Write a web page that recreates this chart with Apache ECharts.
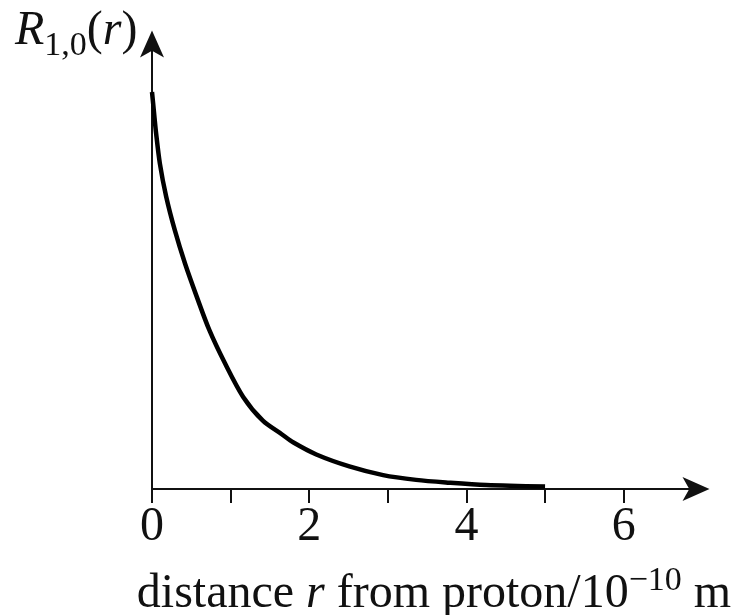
<!DOCTYPE html>
<html>
<head>
<meta charset="utf-8">
<script src="https://cdn.jsdelivr.net/npm/echarts@6/dist/echarts.min.js"></script>
<style>
  html, body { margin: 0; padding: 0; background: #fff; }
  #chart { width: 740px; height: 615px; }
</style>
</head>
<body>
<div id="chart"></div>
<script>
// Radial wavefunction R(1,0) of hydrogen (arbitrary units) against r / 1e-10 m
const rValues = [0, 0.025, 0.05, 0.1, 0.18, 0.29, 0.42, 0.57, 0.73, 0.93, 1.16, 1.41, 1.65, 1.8, 2.09, 2.51, 2.94, 3.36, 3.78, 4.25, 5.0];
const rWave   = [1.0, 0.95, 0.90, 0.82, 0.737, 0.652, 0.568, 0.484, 0.40, 0.316, 0.232, 0.172, 0.138, 0.117, 0.087, 0.057, 0.035, 0.023, 0.016, 0.010, 0.006];
const tickValues  = [0, 1, 2, 3, 4, 5, 6];
const labelValues = [0, 2, 4, 6];

const serif = 'Liberation Serif';
const ink = '#111';

const chart = echarts.init(document.getElementById('chart'), null, { renderer: 'canvas' });

chart.setOption({
  animation: false,
  backgroundColor: '#fff',
  title: {
    text: '{i|R}{s|1,0}{n|(}{i|r}{n|)}',
    left: 10,
    top: -6,
    textStyle: {
      fontWeight: 'normal',
      rich: {
        i: { fontFamily: serif, fontStyle: 'italic', fontWeight: 'normal', fontSize: 48, color: ink },
        n: { fontFamily: serif, fontWeight: 'normal', fontSize: 48, color: ink },
        s: { fontFamily: serif, fontWeight: 'normal', fontSize: 34, color: ink, padding: [30, 0, 0, 0] }
      }
    }
  },
  grid: { left: 152, right: 44, top: 44, bottom: 126, containLabel: false, outerBoundsMode: 'none' },
  xAxis: {
    type: 'value',
    min: 0,
    max: 6.92,
    name: '{n|distance }{i|r}{n| from proton/10}{sup|\u221210}{n| m}',
    nameLocation: 'middle',
    nameGap: 75,
    nameTextStyle: {
      padding: [0, 0, 0, 20],
      rich: {
        n: { fontFamily: serif, fontSize: 48, color: ink },
        i: { fontFamily: serif, fontStyle: 'italic', fontSize: 48, color: ink },
        sup: { fontFamily: serif, fontSize: 34, color: ink, padding: [0, 0, 26, 0] }
      }
    },
    axisLine: {
      show: true,
      symbol: ['none', 'arrow'],
      symbolSize: [18, 27],
      symbolOffset: [0, 13.5],
      lineStyle: { color: ink, width: 2 }
    },
    axisTick: {
      show: true,
      length: 14,
      customValues: tickValues,
      lineStyle: { color: ink, width: 2 }
    },
    axisLabel: {
      show: true,
      customValues: labelValues,
      margin: 14,
      fontFamily: serif,
      fontSize: 48,
      color: ink
    },
    splitLine: { show: false }
  },
  yAxis: {
    type: 'value',
    min: 0,
    max: 1.121,
    axisLine: {
      show: true,
      symbol: ['none', 'arrow'],
      symbolSize: [18, 27],
      symbolOffset: [0, 13.5],
      lineStyle: { color: ink, width: 2 }
    },
    axisTick: { show: false },
    axisLabel: { show: false },
    splitLine: { show: false }
  },
  series: [{
    type: 'line',
    data: rValues.map((r, i) => [r, rWave[i]]),
    smooth: 0.3,
    showSymbol: false,
    lineStyle: { color: '#000', width: 4.5 }
  }]
});
</script>
</body>
</html>
